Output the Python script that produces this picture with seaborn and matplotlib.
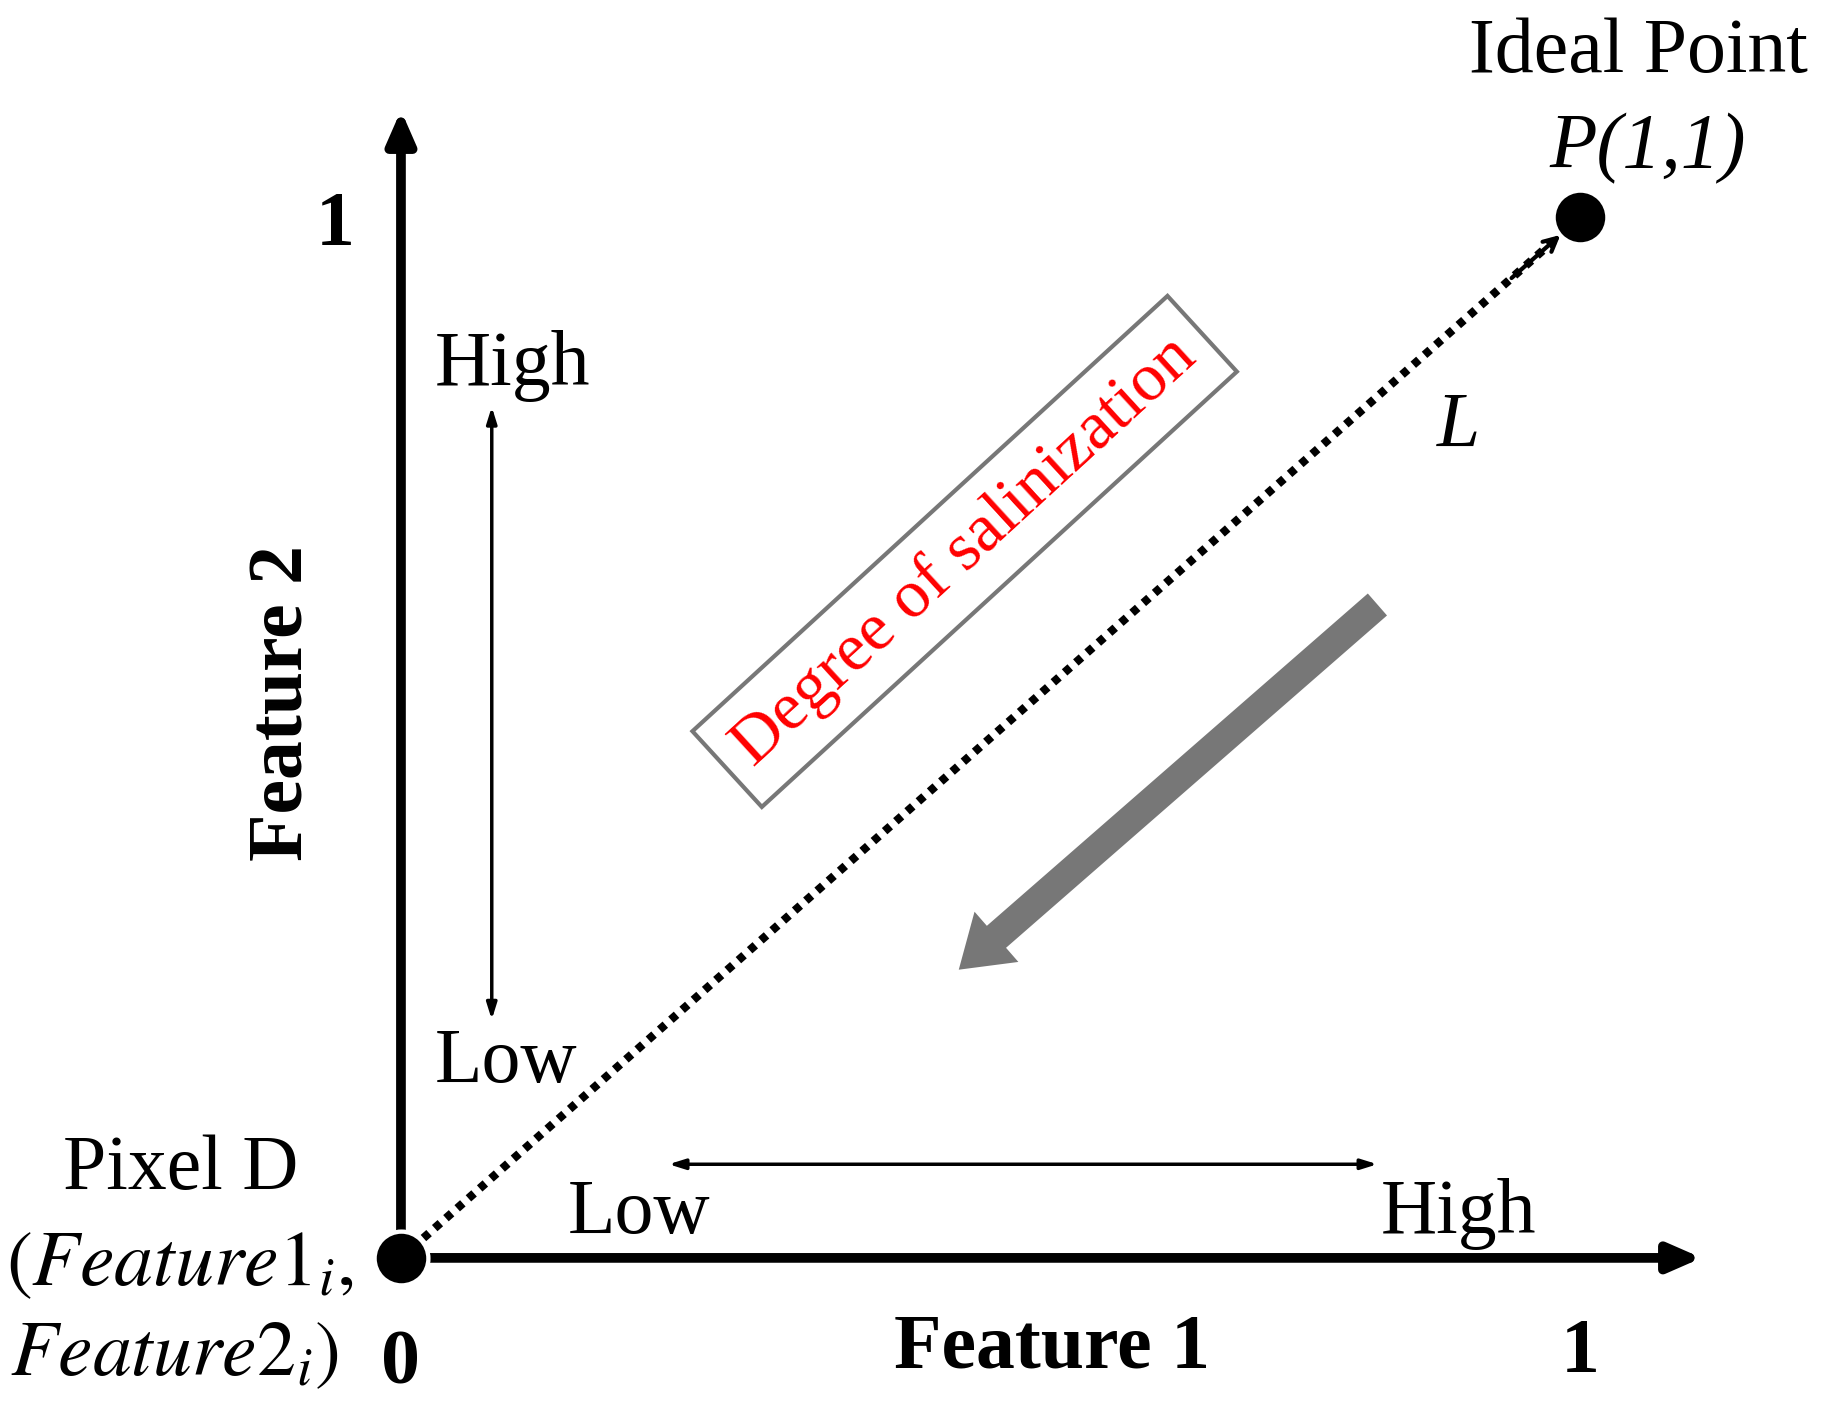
import matplotlib
matplotlib.use("Agg")
import matplotlib.pyplot as plt
import pandas as pd
import seaborn as sns

# key points in normalized feature space
point_names = ["Pixel D", "Ideal Point"]
feature1 = [0.0, 1.0]
feature2 = [0.0, 1.0]
axis_labels = ["Feature 1", "Feature 2"]
tick_labels = ["0", "1"]
range_labels = ["Low", "High"]

sns.set_theme(style="white")
plt.rcParams["font.family"] = ["Liberation Serif", "DejaVu Serif"]
plt.rcParams["mathtext.fontset"] = "stix"
plt.rcParams["text.color"] = "black"

df = pd.DataFrame({"name": point_names, "f1": feature1, "f2": feature2})

fig = plt.figure(figsize=(18.22, 14.15), dpi=100)
ax = fig.add_axes([0, 0, 1, 1])
ax.set_xlim(-0.340, 1.205)
ax.set_ylim(-0.151, 1.209)
ax.axis("off")

FS = 56

# axes arrows
arr = dict(arrowstyle="-|>,head_length=1.6,head_width=0.7", lw=7, color="black",
           shrinkA=0, shrinkB=0)
ax.annotate("", xy=(1.103, 0), xytext=(0, 0), arrowprops=arr)
ax.annotate("", xy=(0, 1.103), xytext=(0, 0), arrowprops=arr)

# dotted line L and points
sns.lineplot(data=df, x="f1", y="f2", ax=ax, color="black", lw=6,
             linestyle=(0, (0.9, 0.9)), legend=False)
ax.annotate("", xy=(0.985, 0.985), xytext=(0.94, 0.94),
            arrowprops=dict(arrowstyle="->,head_length=0.8,head_width=0.4", lw=3, color="black"))
sns.scatterplot(data=df, x="f1", y="f2", ax=ax, s=1500, color="black", zorder=5, legend=False)

# range double arrows
dbl = dict(arrowstyle="<|-|>,head_length=0.8,head_width=0.25", lw=2.5, color="black",
           shrinkA=0, shrinkB=0)
ax.annotate("", xy=(0.077, 0.229), xytext=(0.077, 0.818), arrowprops=dbl)
ax.annotate("", xy=(0.227, 0.090), xytext=(0.828, 0.090), arrowprops=dbl)

# gray direction arrow
ax.annotate("", xy=(0.473, 0.277), xytext=(0.828, 0.628),
            arrowprops=dict(arrowstyle="simple,head_length=1.2,head_width=1.6,tail_width=0.7",
                            color="#777777", lw=0, mutation_scale=30, shrinkA=0, shrinkB=0))

# texts
ax.text(-0.056, 0.991, tick_labels[1], fontsize=FS, fontweight="bold", ha="center", va="center")
ax.text(0.0, -0.103, tick_labels[0], fontsize=FS, fontweight="bold", ha="center", va="center")
ax.text(1.0, -0.092, tick_labels[1], fontsize=FS, fontweight="bold", ha="center", va="center")
ax.text(0.552, -0.088, axis_labels[0], fontsize=FS, fontweight="bold", ha="center", va="center")
ax.text(-0.099, 0.533, axis_labels[1], fontsize=FS, fontweight="bold", ha="center",
        va="center", rotation=90)
ax.text(0.095, 0.857, range_labels[1], fontsize=FS, ha="center", va="center")
ax.text(0.089, 0.1875, range_labels[0], fontsize=FS, ha="center", va="center")
ax.text(0.202, 0.042, range_labels[0], fontsize=FS, ha="center", va="center")
ax.text(0.897, 0.042, range_labels[1], fontsize=FS, ha="center", va="center")
ax.text(1.049, 1.158, point_names[1], fontsize=FS, ha="center", va="center")
ax.text(1.057, 1.066, "P(1,1)", fontsize=FS, style="italic", ha="center", va="center")
ax.text(0.897, 0.798, "L", fontsize=FS, style="italic", ha="center", va="center")
ax.text(-0.187, 0.084, point_names[0], fontsize=FS, ha="center", va="center")
ax.text(-0.187, -0.008, r"$\mathit{(Feature1_i,}$", fontsize=FS, ha="center", va="center")
ax.text(-0.192, -0.095, r"$\mathit{Feature2_i)}$", fontsize=FS, ha="center", va="center")
ax.text(0.478, 0.679, "Degree of salinization", fontsize=FS * 0.88, color="red",
        ha="center", va="center", rotation=42.5, rotation_mode="anchor",
        bbox=dict(boxstyle="square,pad=0.3", fc="white", ec="#777777", lw=3))

fig.savefig("out.png", dpi=100)
